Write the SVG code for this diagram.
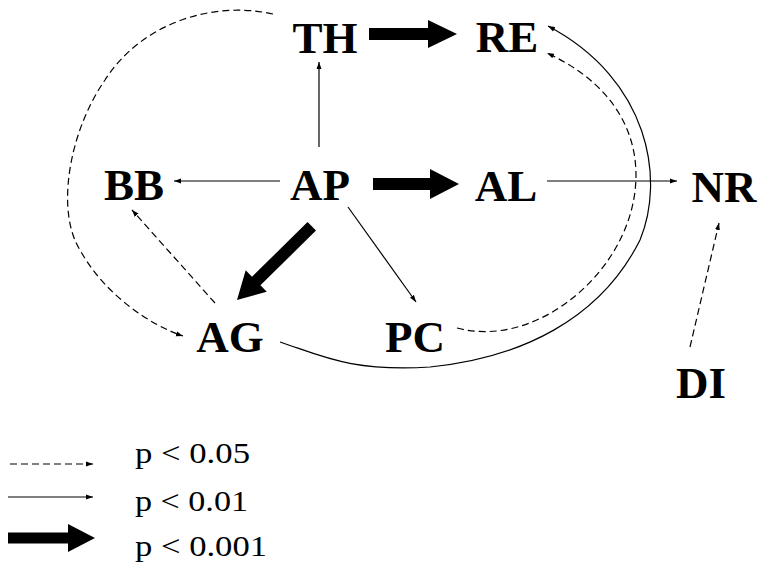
<svg xmlns="http://www.w3.org/2000/svg" width="759" height="564" viewBox="0 0 759 564">
<style>
.n{font-family:"Liberation Serif","Times New Roman",serif;font-weight:bold;font-size:45px;fill:#000;text-anchor:middle}
.lg{font-family:"Liberation Serif","Times New Roman",serif;font-size:29px;fill:#000}
.thin{fill:none;stroke:#000;stroke-width:1.2;marker-end:url(#ah)}
.dash{fill:none;stroke:#000;stroke-width:1.2;stroke-dasharray:7 4;marker-end:url(#ah)}
.thick{fill:#000}
</style>
<defs>
<marker id="ah" markerWidth="8" markerHeight="6" refX="7" refY="3" orient="auto" markerUnits="userSpaceOnUse">
<path d="M0,0.5 L7,3 L0,5.5 z" fill="#000"/>
</marker>
</defs>
<rect width="759" height="564" fill="#fff"/>
<g id="connectors">
<g transform="translate(457,34)"><polygon class="thick" points="0,0 -29,-14 -29,-6 -88,-6 -88,6 -29,6 -29,14"/></g>
<g transform="translate(459,184)"><polygon class="thick" points="0,0 -29,-15 -29,-6 -86,-6 -86,6 -29,6 -29,15"/></g>
<g transform="translate(237,300) rotate(135.4)"><polygon class="thick" points="0,0 -27,-15 -27,-6 -105,-6 -105,6 -27,6 -27,15"/></g>
<path class="thin" d="M319,147 L319,62"/>
<path class="thin" d="M280,181 L174,181"/>
<path class="thin" d="M348,207 L416,302"/>
<path class="thin" d="M547,181 L677,181"/>
<path class="dash" d="M215,303 L132,210"/>
<path class="dash" d="M690,347 L719,223"/>
<path class="dash" d="M273,14 C210,0 140,25 105,80 C70,130 55,210 80,250 C105,295 150,325 183,336"/>
<path class="thin" d="M280,342 C320,355 350,372 430,367 C520,358 600,320 640,240 C665,180 650,80 548,26"/>
<path class="dash" d="M457,328 C520,345 590,300 620,240 C648,185 648,100 547,53"/>
</g>
<g id="TH"><text class="n" x="325" y="53">TH</text></g>
<g id="RE"><text class="n" x="507" y="52">RE</text></g>
<g id="BB"><text class="n" x="134" y="200">BB</text></g>
<g id="AP"><text class="n" x="320" y="200">AP</text></g>
<g id="AL"><text class="n" x="506" y="201">AL</text></g>
<g id="NR"><text class="n" x="724" y="202">NR</text></g>
<g id="AG"><text class="n" x="230" y="352">AG</text></g>
<g id="PC"><text class="n" x="415" y="352">PC</text></g>
<g id="DI"><text class="n" x="701" y="398">DI</text></g>
<g id="legend">
<path class="dash" d="M10,464 L93,464" stroke-dasharray="5 4"/>
<path class="thin" d="M8,497 L93,497"/>
<g transform="translate(95,538)"><polygon class="thick" points="0,0 -27,-14 -27,-5.5 -87,-5.5 -87,5.5 -27,5.5 -27,14"/></g>
<text class="lg" x="135" y="463" textLength="115" lengthAdjust="spacingAndGlyphs">p &lt; 0.05</text>
<text class="lg" x="135" y="511" textLength="113" lengthAdjust="spacingAndGlyphs">p &lt; 0.01</text>
<text class="lg" x="135" y="556" textLength="132" lengthAdjust="spacingAndGlyphs">p &lt; 0.001</text>
</g>
</svg>
